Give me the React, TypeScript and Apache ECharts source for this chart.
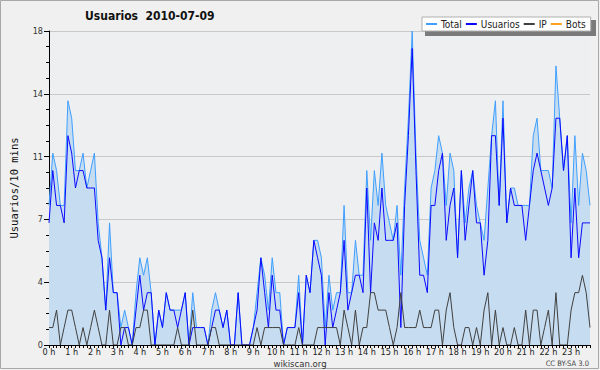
import React, { useEffect, useRef } from "react";
import * as echarts from "echarts";

const TITLE = "Usuarios  2010-07-09";
const Y_NAME = "Usuarios/10 mins";
const SERIES_NAMES = ["Total", "Usuarios", "IP", "Bots"];
const HOUR_LABELS = [
  "0 h", "1 h", "2 h", "3 h", "4 h", "5 h", "6 h", "7 h", "8 h", "9 h", "10 h", "11 h",
  "12 h", "13 h", "14 h", "15 h", "16 h", "17 h", "18 h", "19 h", "20 h", "21 h", "22 h", "23 h",
];
const Y_MAX = 18;
const Y_STEP = 3.6;

const TOTAL = [
  8, 11, 10, 8, 8, 14, 13, 10, 10, 11, 9, 10, 11, 7, 5, 2, 7, 3, 3, 1, 2, 1, 0, 3,
  5, 4, 5, 3, 0, 2, 1, 3, 2, 2, 2, 2, 3, 0, 3, 1, 1, 1, 0, 2, 3, 2, 1, 2,
  0, 0, 3, 0, 0, 0, 1, 3, 5, 4, 2, 5, 3, 3, 0, 1, 1, 1, 4, 0, 4, 3, 6, 6,
  5, 1, 4, 2, 3, 3, 8, 3, 3, 6, 4, 4, 10, 6, 10, 8, 11, 8, 7, 6, 8, 4, 9, 13,
  18, 11, 6, 5, 4, 9, 10, 12, 11, 8, 11, 10, 5, 10, 7, 9, 10, 8, 7, 6, 9, 12, 14, 8,
  14, 7, 9, 9, 8, 8, 8, 8, 12, 13, 10, 10, 10, 9, 16, 13, 10, 12, 7, 12, 8, 11, 10, 8,
];
const USUARIOS = [
  7, 10, 8, 8, 7, 12, 11, 9, 10, 10, 9, 9, 9, 6, 5, 2, 5, 3, 3, 0, 1, 1, 0, 2,
  4, 2, 3, 3, 0, 2, 1, 3, 2, 2, 1, 2, 3, 0, 1, 1, 1, 1, 0, 1, 2, 2, 1, 2,
  0, 0, 3, 0, 0, 0, 1, 2, 5, 3, 1, 4, 2, 2, 0, 1, 1, 1, 3, 0, 4, 3, 6, 5,
  4, 0, 3, 1, 2, 3, 6, 2, 3, 4, 4, 3, 9, 3, 7, 6, 9, 6, 6, 6, 7, 1, 8, 12,
  17, 10, 4, 4, 3, 8, 8, 10, 11, 6, 8, 9, 5, 10, 6, 8, 10, 7, 7, 4, 6, 12, 12, 8,
  13, 7, 9, 8, 8, 8, 6, 8, 10, 11, 10, 9, 8, 9, 13, 13, 10, 12, 5, 9, 5, 7, 7, 7,
];
const IP = [
  1, 1, 2, 0, 1, 2, 2, 1, 0, 1, 0, 1, 2, 1, 0, 0, 2, 0, 0, 1, 1, 0, 0, 1,
  1, 2, 2, 0, 0, 0, 0, 0, 0, 0, 1, 0, 0, 0, 2, 0, 0, 0, 0, 1, 1, 0, 0, 0,
  0, 0, 0, 0, 0, 0, 0, 1, 0, 1, 1, 1, 1, 1, 0, 0, 0, 0, 1, 0, 0, 0, 0, 1,
  1, 1, 1, 1, 1, 0, 2, 1, 0, 2, 0, 1, 1, 3, 3, 2, 2, 2, 1, 0, 1, 3, 1, 1,
  1, 1, 2, 1, 1, 1, 2, 2, 0, 2, 3, 1, 0, 0, 1, 1, 0, 1, 0, 2, 3, 0, 2, 0,
  1, 0, 0, 1, 0, 0, 2, 0, 2, 2, 0, 1, 2, 0, 3, 0, 0, 0, 2, 3, 3, 4, 3, 1,
];
const BOTS = [
  0, 0, 0, 0, 0, 0, 0, 0, 0, 0, 0, 0, 0, 0, 0, 0, 0, 0, 0, 0, 0, 0, 0, 0,
  0, 0, 0, 0, 0, 0, 0, 0, 0, 0, 0, 0, 0, 0, 0, 0, 0, 0, 0, 0, 0, 0, 0, 0,
  0, 0, 0, 0, 0, 0, 0, 0, 0, 0, 0, 0, 0, 0, 0, 0, 0, 0, 0, 0, 0, 0, 0, 0,
  0, 0, 0, 0, 0, 0, 0, 0, 0, 0, 0, 0, 0, 0, 0, 0, 0, 0, 0, 0, 0, 0, 0, 0,
  0, 0, 0, 0, 0, 0, 0, 0, 0, 0, 0, 0, 0, 0, 0, 0, 0, 0, 0, 0, 0, 0, 0, 0,
  0, 0, 0, 0, 0, 0, 0, 0, 0, 0, 0, 0, 0, 0, 0, 0, 0, 0, 0, 0, 0, 0, 0, 0,
];

const CATEGORIES: string[] = [];
HOUR_LABELS.forEach((_, h) => {
  for (let m = 0; m < 60; m += 10) {
    CATEGORIES.push(`${String(h).padStart(2, "0")}:${String(m).padStart(2, "0")}`);
  }
});

const FONT = '"DejaVu Sans Condensed", "DejaVu Sans", sans-serif';
const MONO = '"DejaVu Sans Mono", monospace';
const COLORS = ["#3f9fff", "#0a0aff", "#404040", "#ffa020"];

export default function App() {
  const ref = useRef<HTMLDivElement>(null);
  useEffect(() => {
    if (!ref.current) return;
    const chart = echarts.init(ref.current, undefined, { renderer: "svg" });
    const lineSeries = (name: string, data: number[], color: string, extra: any = {}) => ({
      name,
      type: "line",
      data,
      symbol: "none",
      color,
      lineStyle: { color, width: 1 },
      emphasis: { disabled: true },
      ...extra,
    });
    chart.setOption({
      animation: false,
      backgroundColor: "#f0f0f0",
      textStyle: { fontFamily: FONT },
      title: {
        text: TITLE,
        left: 85,
        top: 10,
        padding: 0,
        textStyle: { fontSize: 12, fontWeight: "bold", color: "#111", fontFamily: FONT },
      },
      legend: {
        left: 422,
        top: 17,
        padding: [2, 5, 2, 4],
        itemGap: 4,
        itemWidth: 11,
        itemHeight: 2,
        icon: "rect",
        backgroundColor: "#ffffff",
        borderColor: "#b0b0b0",
        borderWidth: 1,
        data: SERIES_NAMES,
        textStyle: { fontSize: 10, color: "#222", fontFamily: FONT, padding: [0, 0, 0, -1] },
      },
      grid: {
        left: 45,
        right: 10,
        top: 31,
        bottom: 25,
        show: true,
        backgroundColor: "#eeeff1",
        borderWidth: 0,
      },
      xAxis: {
        type: "category",
        data: CATEGORIES,
        boundaryGap: false,
        z: 5,
        axisLine: { lineStyle: { color: "#000", width: 1 } },
        axisTick: { show: true, interval: 0, length: 3, lineStyle: { color: "#000" } },
        axisLabel: {
          interval: 5,
          margin: 2,
          fontSize: 9,
          color: "#222",
          fontFamily: FONT,
          formatter: (_v: string, idx: number) => HOUR_LABELS[Math.floor(idx / 6)],
        },
        splitLine: { show: false },
      },
      yAxis: {
        type: "value",
        min: 0,
        max: Y_MAX,
        interval: Y_STEP,
        name: Y_NAME,
        nameLocation: "middle",
        nameRotate: 90,
        nameGap: 30,
        nameTextStyle: { fontFamily: MONO, fontSize: 10.5, color: "#111" },
        axisLine: { show: true, lineStyle: { color: "#000", width: 1 } },
        axisTick: { show: true, length: 5, lineStyle: { color: "#000" } },
        minorTick: { show: true, splitNumber: 4, length: 3, lineStyle: { color: "#000" } },
        axisLabel: {
          margin: 6,
          fontSize: 9,
          color: "#333",
          fontFamily: FONT,
          formatter: (v: number) => String(Math.round(v)),
        },
        splitLine: { show: true, lineStyle: { color: "#c8c8c8", width: 1 } },
      },
      series: [
        lineSeries(SERIES_NAMES[0], TOTAL, COLORS[0], {
          areaStyle: { color: "#c6dcf0", opacity: 1 },
        }),
        lineSeries(SERIES_NAMES[1], USUARIOS, COLORS[1]),
        lineSeries(SERIES_NAMES[2], IP, COLORS[2]),
        lineSeries(SERIES_NAMES[3], BOTS, COLORS[3], { z: 1 }),
      ],
      graphic: [
        {
          type: "rect",
          z: 0,
          silent: true,
          shape: { x: 0.5, y: 0.5, width: 598, height: 368 },
          style: { fill: "none", stroke: "#a8a8a8", lineWidth: 1 },
        },
        {
          type: "rect",
          z: 1,
          silent: true,
          shape: { x: 425, y: 20, width: 171, height: 16 },
          style: { fill: "#7a7a7a" },
        },
        {
          type: "text",
          x: 300,
          y: 363,
          silent: true,
          style: {
            text: "wikiscan.org",
            fontSize: 9.5,
            fontFamily: FONT,
            fill: "#333",
            align: "center",
            verticalAlign: "middle",
          },
        },
        {
          type: "text",
          x: 589,
          y: 363,
          silent: true,
          style: {
            text: "CC BY-SA 3.0",
            fontSize: 7.5,
            fontFamily: FONT,
            fill: "#444",
            align: "right",
            verticalAlign: "middle",
          },
        },
      ],
    });
    return () => chart.dispose();
  }, []);
  return (
    <div
      ref={ref}
      style={{ position: "absolute", left: 0, top: 0, width: 600, height: 370 }}
    />
  );
}
